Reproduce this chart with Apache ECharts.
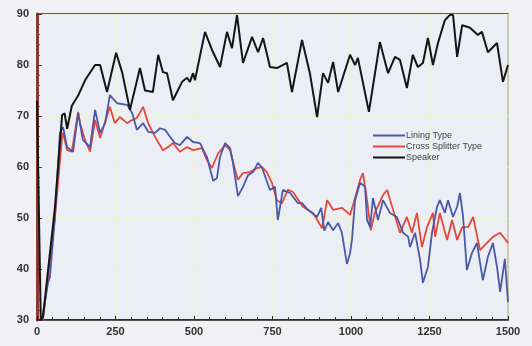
<!DOCTYPE html>
<html>
<head>
<meta charset="utf-8">
<script src="https://cdn.jsdelivr.net/npm/echarts@6/dist/echarts.min.js"></script>
<style>
  html, body { margin: 0; padding: 0; background: #f1f1f5; }
  #chart { width: 532px; height: 346px; }
</style>
</head>
<body>
<div id="chart"></div>
<script>
// series data, [x, y]
var speaker = [[0,73],[12,30],[19,30.6],[57,52],[80,70.2],[88,70.5],[96,67.5],[111,72],[131,74],[153,77],[185,80],[201,80],
    [223,74.7],[252,82.4],[271,78.6],[296,71.2],[328,79.4],[344,75],[369,74.7],[386,82],[401,78.6],[414,78.4],[433,73.1],
    [462,76.7],[478,77.5],[487,76.7],[497,78.4],[503,77],[535,86.5],[557,83],[583,79.6],[605,86.5],[621,83.3],[637,89.8],
    [656,80.4],[685,85.5],[704,82.5],[720,85.3],[742,79.6],[764,79.4],[796,80.4],[812,74.7],[844,84.9],[869,78.4],
    [892,69.8],[911,78.4],[927,76.5],[943,80.6],[959,74.7],[997,82],[1013,80],[1022,81.4],[1057,70.8],[1092,84.5],
    [1118,78.4],[1140,81.6],[1156,81],[1178,75.5],[1197,82],[1213,79.6],[1229,80.4],[1245,85.3],[1261,80],[1277,84.3],
    [1299,88.8],[1315,89.8],[1325,89.8],[1338,81.6],[1354,87.8],[1379,87.3],[1404,85.9],[1417,86.5],[1436,82.5],
    [1465,84.3],[1484,76.7],[1500,80]];

var lining = [[16,30],[35,37.3],[41,38.4],[57,50],[73,66.7],[83,67.8],[96,63.9],[115,63],[131,70.6],[146,65.3],[169,63.9],
    [185,71.2],[201,66.7],[217,68.6],[232,74.1],[255,72.5],[287,72.2],[303,70.6],[318,67.3],[338,68.6],[354,66.9],
    [376,66.7],[392,67.6],[408,67.3],[424,65.9],[439,64.7],[455,64.3],[478,65.9],[497,64.9],[519,64.7],[541,62],
    [561,57.3],[573,57.8],[583,62],[599,64.7],[615,63.7],[624,60.8],[640,54.3],[656,56.1],[672,58.4],[688,59],
    [704,60.8],[717,59.8],[742,55.5],[758,56.1],[767,49.6],[783,55.5],[806,54.9],[831,52.9],[844,52.9],[863,51.6],
    [892,50.2],[905,52],[915,47.5],[927,49.2],[943,47.6],[959,49],[971,47.1],[987,41],[997,43.1],[1003,45.7],
    [1013,53.5],[1029,56.9],[1045,56.1],[1051,49.6],[1061,48.2],[1070,53.9],[1086,49.6],[1102,53.5],[1124,51],
    [1146,50.2],[1166,47.1],[1182,46.3],[1188,44.3],[1204,47.1],[1220,41.8],[1229,37.3],[1245,40.4],[1258,47.1],
    [1274,52.2],[1283,53.5],[1299,51],[1309,53.5],[1325,50.2],[1338,52.2],[1347,54.9],[1357,50.2],[1369,39.8],
    [1385,43.1],[1401,45.1],[1420,37.8],[1436,42.4],[1452,45.1],[1465,40.4],[1475,35.5],[1490,42],[1500,33.5]];

var splitter = [[19,30],[57,50],[80,66],[83,66.7],[96,63.3],[111,63],[131,70.8],[137,68.6],[153,65.3],[169,63],[185,69.2],
    [201,65.7],[232,71.8],[248,68.6],[264,69.8],[287,68.6],[303,69.2],[318,69.6],[338,71.8],[354,68.6],[376,65.9],
    [401,63.3],[417,63.9],[433,64.7],[455,63],[478,63.9],[497,63.3],[525,63.7],[541,61.4],[557,59.8],[577,62.7],
    [599,64.3],[615,63.3],[631,59.4],[640,57.5],[656,58.8],[678,59],[701,59.8],[717,60],[732,59],[748,56.9],
    [764,53.5],[780,52.9],[799,55.5],[815,55.1],[847,52.2],[879,51],[908,48],[924,53.5],[943,51.6],[971,52],
    [997,50.6],[1013,53.9],[1029,57.5],[1038,58.8],[1051,53.5],[1063,47.6],[1076,51],[1102,54.5],[1115,55.5],
    [1134,51.6],[1156,47.1],[1178,50.2],[1194,47.1],[1210,51],[1226,44.3],[1242,48.2],[1261,51],[1268,46.3],
    [1283,51],[1306,45.7],[1322,49.6],[1338,45.7],[1354,48.2],[1373,48.2],[1389,50.2],[1411,43.7],[1433,45.1],
    [1452,46.3],[1475,47.1],[1500,45.1]];

var seriesNames = ['Lining Type', 'Cross Splitter Type', 'Speaker'];
var seriesColors = ['#4a58a8', '#e2483c', '#151515'];

var chart = echarts.init(document.getElementById('chart'));
var labelFont = { color: '#333', fontSize: 11, fontFamily: 'Liberation Sans, Arial, sans-serif', fontWeight: 'bold' };

chart.setOption({
    backgroundColor: '#f1f1f5',
    animation: false,
    grid: {
        left: 37, right: 24, top: 14, bottom: 26,
        show: true, backgroundColor: '#eceef5',
        borderColor: '#2a2a2a', borderWidth: 1.5
    },
    legend: {
        orient: 'vertical',
        left: 368, top: 126,
        itemWidth: 32, itemHeight: 2, itemGap: 2,
        icon: 'rect',
        textStyle: { color: '#444', fontSize: 9, fontFamily: 'Liberation Sans, Arial, sans-serif', padding: [0, 0, 0, -4] },
        data: seriesNames
    },
    xAxis: {
        type: 'value', min: 0, max: 1500, interval: 250,
        axisLine: { lineStyle: { color: '#222', width: 1.5 } },
        axisTick: { inside: true, length: 4, lineStyle: { color: '#222' } },
        minorTick: { show: true, splitNumber: 5, length: 3, lineStyle: { color: '#333' } },
        splitLine: { show: true, lineStyle: { color: '#f0f0cc', width: 1.5 } },
        axisLabel: Object.assign({ margin: 6, formatter: function (v) { return String(v); } }, labelFont)
    },
    yAxis: {
        type: 'value', min: 30, max: 90, interval: 10,
        axisLine: { show: true, lineStyle: { color: '#8a3a32', width: 3 } },
        axisTick: { inside: true, length: 5, lineStyle: { color: '#5a2a24' } },
        minorTick: { show: true, splitNumber: 5, length: 3, lineStyle: { color: '#8a4a40' } },
        splitLine: { show: true, lineStyle: { color: '#f0f0d4', width: 1 } },
        axisLabel: Object.assign({ margin: 8 }, labelFont)
    },
    series: [
        { name: seriesNames[0], type: 'line', data: lining, showSymbol: false, z: 3,
          lineStyle: { color: seriesColors[0], width: 1.8 }, itemStyle: { color: seriesColors[0] } },
        { name: seriesNames[1], type: 'line', data: splitter, showSymbol: false, z: 2,
          lineStyle: { color: seriesColors[1], width: 1.8 }, itemStyle: { color: seriesColors[1] } },
        { name: seriesNames[2], type: 'line', data: speaker, showSymbol: false, z: 4,
          lineStyle: { color: seriesColors[2], width: 2 }, itemStyle: { color: seriesColors[2] } }
    ]
});
</script>
</body>
</html>
